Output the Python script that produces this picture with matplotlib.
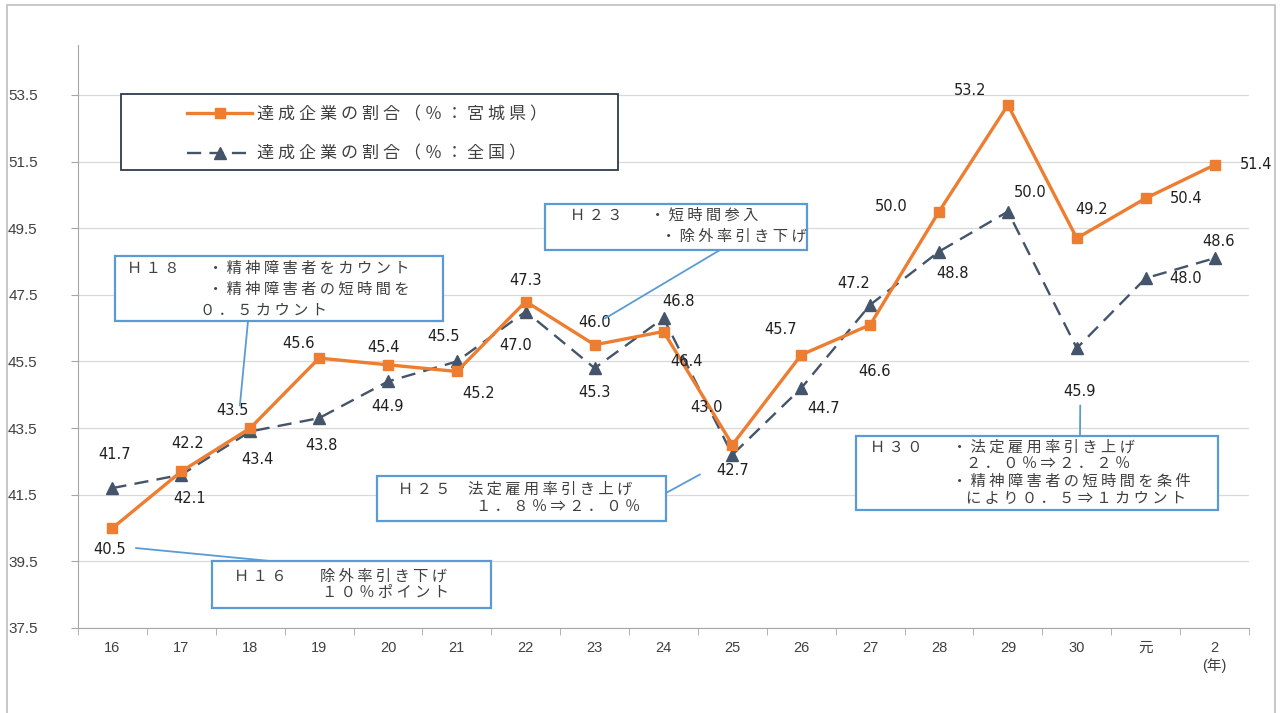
import matplotlib
matplotlib.use('Agg')
import matplotlib.pyplot as plt
from matplotlib.patches import Rectangle
from matplotlib.lines import Line2D

# ---------------- data ----------------
years = ['16', '17', '18', '19', '20', '21', '22', '23', '24', '25', '26', '27', '28', '29', '30', '元', '2\n(年)']
miyagi = [40.5, 42.2, 43.5, 45.6, 45.4, 45.2, 47.3, 46.0, 46.4, 43.0, 45.7, 46.6, 50.0, 53.2, 49.2, 50.4, 51.4]
national = [41.7, 42.1, 43.4, 43.8, 44.9, 45.5, 47.0, 45.3, 46.8, 42.7, 44.7, 47.2, 48.8, 50.0, 45.9, 48.0, 48.6]
yticks = [37.5, 39.5, 41.5, 43.5, 45.5, 47.5, 49.5, 51.5, 53.5]
label_miyagi = '達成企業の割合（％：宮城県）'
label_national = '達成企業の割合（％：全国）'

# label offsets (pixels)
off_m = [(-3, -21), (6, 28), (-18, 18), (-21, 15), (-4, 17), (22, -22), (0, 21), (0, 22), (23, -30),
         (-26, 37), (-21, 25), (4, -47), (-48, 5), (-38, 14), (15, 29), (40, 0), (42, 0)]
off_n = [(2, 34), (8, -24), (7, -28), (2, -27), (0, -25), (-13, 25), (-10, -34), (0, -24), (15, 17),
         (0, -16), (22, -20), (-16, 21), (14, -22), (22, 19), (3, -43), (40, 0), (4, 17)]

W, H = 1281, 713
CJK = ['Noto Sans CJK JP', 'DejaVu Sans']
TXT = '#404040'
BLUE = '#5B9BD5'
ORANGE = '#ED7D31'
NAVY = '#44546A'
TICKFONT = ['Liberation Sans Narrow', 'Liberation Sans', 'Noto Sans CJK JP', 'DejaVu Sans']

fig = plt.figure(figsize=(W / 100, H / 100), dpi=100)
fig.patch.set_facecolor('white')


def fx(px):
    return px / W


def fy(py):
    return 1 - py / H


def spaced(s):
    return ' '.join(s)


ax = fig.add_axes([fx(78), fy(628), fx(1249) - fx(78), fy(45) - fy(628)])
x = list(range(len(years)))

ax.plot(x, miyagi, color=ORANGE, lw=2.4, marker='s', ms=7, mfc=ORANGE, mec=ORANGE, zorder=4)
ax.plot(x, national, color=NAVY, lw=1.7, ls=(0, (6, 3.5)), marker='^', ms=8, mfc=NAVY, mec=NAVY, zorder=3)

for i, v in enumerate(miyagi):
    ax.annotate(f'{v:.1f}', (i, v), xytext=off_m[i], textcoords='offset pixels', ha='center', va='center',
                fontsize=10.5, color='#1F1F1F', zorder=6)
for i, v in enumerate(national):
    ax.annotate(f'{v:.1f}', (i, v), xytext=off_n[i], textcoords='offset pixels', ha='center', va='center',
                fontsize=10.5, color='#1F1F1F', zorder=6)

ax.set_xlim(-0.5, len(years) - 0.5)
ax.set_ylim(37.5, 55.0)
ax.set_yticks(yticks)
ax.set_yticklabels([f'{t:.1f}' for t in yticks], family=TICKFONT, fontsize=11, color=TXT)
ax.set_xticks(x)
ax.set_xticklabels(years, family=TICKFONT, fontsize=10.5, color=TXT, va='top', linespacing=1.3)
ax.set_xticks([i - 0.5 for i in range(len(years) + 1)], minor=True)
ax.tick_params(axis='x', which='major', length=0, pad=9)
ax.tick_params(axis='x', which='minor', length=5, color='#A6A6A6', direction='out')
ax.tick_params(axis='y', length=5, color='#A6A6A6', pad=24)
for t in ax.get_yticklabels():
    t.set_ha('right')
ax.grid(axis='y', color='#D9D9D9', lw=0.9)
ax.set_axisbelow(True)
for s in ['top', 'right']:
    ax.spines[s].set_visible(False)
ax.spines['left'].set_color('#A6A6A6')
ax.spines['bottom'].set_color('#A6A6A6')

# outer frame
fig.add_artist(Rectangle((fx(7), fy(720)), fx(1275) - fx(7), fy(5) - fy(720), transform=fig.transFigure,
                         fill=False, ec='#BFBFBF', lw=1.2))


def box(x0, y0, x1, y1, ec=BLUE, lw=1.6):
    fig.add_artist(Rectangle((fx(x0), fy(y1)), fx(x1) - fx(x0), fy(y0) - fy(y1), transform=fig.transFigure,
                             fc='white', ec=ec, lw=lw, zorder=7))


def ftext(px, py, s, size=11):
    fig.text(fx(px), fy(py), spaced(s), ha='left', va='center', fontsize=size, color=TXT, family=CJK, zorder=8)


def connector(p_fig, p_data):
    ax.annotate('', xy=p_data, xycoords='data', xytext=(fx(p_fig[0]), fy(p_fig[1])), textcoords='figure fraction',
                arrowprops=dict(arrowstyle='-', color=BLUE, lw=1.3, shrinkA=0, shrinkB=0), zorder=6,
                annotation_clip=False)


# legend
box(121, 94, 618, 170, ec='#2F3B4C', lw=1.3)
handles = [Line2D([0], [0], color=ORANGE, lw=2.4, marker='s', ms=7),
           Line2D([0], [0], color=NAVY, lw=1.7, ls=(0, (6, 3.5)), marker='^', ms=8)]
leg = fig.legend(handles, [spaced(label_miyagi), spaced(label_national)], loc='upper left',
                 bbox_to_anchor=(fx(172), fy(90)), frameon=False, handlelength=3.8, handletextpad=0.3,
                 labelspacing=1.25, prop={'family': CJK, 'size': 12.3})
for t in leg.get_texts():
    t.set_color(TXT)
leg.set_zorder(9)

# H18
connector((248, 321), (1.85, 44.18))
box(115, 256, 443, 321)
ftext(127, 268, 'Ｈ１８')
ftext(208, 268, '・精神障害者をカウント')
ftext(208, 289, '・精神障害者の短時間を')
ftext(200, 310, '０．５カウント')

# H23
connector((720, 250), (7.15, 46.79))
box(545, 204, 807, 250)
ftext(570, 215, 'Ｈ２３')
ftext(650, 215, '・短時間参入')
ftext(661, 236, '・除外率引き下げ')

# H25
connector((666, 493), (8.53, 42.11))
box(377, 476, 666, 521)
ftext(398, 489, 'Ｈ２５')
ftext(468, 489, '法定雇用率引き上げ')
ftext(476, 507, '１．８％⇒２．０％')

# H30
connector((1080, 436), (14.05, 44.18))
box(856, 436, 1218, 510)
ftext(870, 447, 'Ｈ３０')
ftext(952, 447, '・法定雇用率引き上げ')
ftext(966, 464, '２．０％⇒２．２％')
ftext(952, 481, '・精神障害者の短時間を条件')
ftext(966, 498, 'により０．５⇒１カウント')

# H16
connector((270, 561), (0.34, 39.9))
box(212, 561, 491, 608)
ftext(234, 576, 'Ｈ１６')
ftext(320, 576, '除外率引き下げ')
ftext(322, 592, '１０％ポイント')

fig.savefig('out.png', dpi=100)
